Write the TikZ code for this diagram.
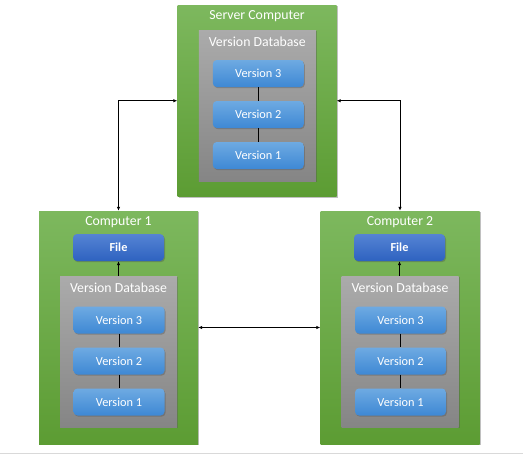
\documentclass[tikz,border=0pt]{standalone}
\usepackage{fontspec}
\setmainfont{Carlito}
\usetikzlibrary{arrows.meta,shadows}
\definecolor{grnTop}{HTML}{7DB85E}
\definecolor{grnBot}{HTML}{5C9C33}
\definecolor{gryTop}{HTML}{ABABAB}
\definecolor{gryBot}{HTML}{858585}
\definecolor{verTop}{HTML}{6EAAE2}
\definecolor{verBot}{HTML}{3E88D4}
\definecolor{fileTop}{HTML}{5584D4}
\definecolor{fileBot}{HTML}{2E62C0}
\tikzset{
  x=1pt, y=-1pt,
  boxshadow/.style={drop shadow={shadow xshift=1pt,shadow yshift=-1.2pt,opacity=0.35,fill=black!70}},
  machine/.style={rectangle, inner sep=0pt, minimum width=159pt, minimum height=#1,
    top color=grnTop, bottom color=grnBot, boxshadow},
  database/.style={rectangle, inner sep=0pt, minimum width=117pt, minimum height=151pt,
    top color=gryTop, bottom color=gryBot, boxshadow},
  version/.style={rectangle, rounded corners=4pt, inner sep=0pt, minimum width=91pt, minimum height=27pt,
    top color=verTop, bottom color=verBot, boxshadow, text=white, font=\fontsize{12.3}{14}\selectfont},
  filebox/.style={rectangle, rounded corners=4pt, inner sep=0pt, minimum width=91pt, minimum height=27pt,
    top color=fileTop, bottom color=fileBot, boxshadow, text=white, font=\fontsize{12.3}{14}\selectfont\bfseries},
  title/.style={text=white, inner sep=0pt, font=\fontsize{13.8}{16}\selectfont},
  link/.style={line width=0.8pt, black},
  twoway/.style={link, {Latex[length=4pt,width=3.5pt]}-{Latex[length=4pt,width=3.5pt]}},
  oneway/.style={link, -{Latex[length=4pt,width=3.5pt]}}
}
\begin{document}
\begin{tikzpicture}
\useasboundingbox (0,0) rectangle (523,455);
\fill[white] (0,0) rectangle (523,455);
\draw[black!15, line width=1.5pt] (0,453.5) -- (523,453.5);

% server computer
\node[machine=191.5pt] (srv) at (257,100.75) {};
\node[title] (srvT) at (257,16.5) {Server Computer};
\node[database] (srvDB) at (257.3,105.5) {};
\node[title] (srvDBT) at (257.3,42) {Version Database};
\node[version] (s3) at (258.3,73.5) {Version 3};
\node[version] (s2) at (258.3,114.5) {Version 2};
\node[version] (s1) at (258.3,155.5) {Version 1};
\draw[link] (s3.south) -- (s2.north);
\draw[link] (s2.south) -- (s1.north);

% computer 1
\node[machine=233pt] (ca) at (118.5,327.5) {};
\node[title] (caT) at (118.5,222.5) {Computer 1};
\node[filebox] (caF) at (118.5,247.5) {File};
\node[database] (caDB) at (118.5,351.5) {};
\node[title] (caDBT) at (118.5,287.5) {Version Database};
\node[version] (a3) at (119,320) {Version 3};
\node[version] (a2) at (119,361) {Version 2};
\node[version] (a1) at (119,402) {Version 1};
\draw[link] (a3.south) -- (a2.north);
\draw[link] (a2.south) -- (a1.north);
\draw[oneway] (caDB.north -| caF.south) -- (caF.south);

% computer 2
\node[machine=233pt] (cb) at (400,327.5) {};
\node[title] (cbT) at (400,222.5) {Computer 2};
\node[filebox] (cbF) at (399.5,247.5) {File};
\node[database] (cbDB) at (400,351.5) {};
\node[title] (cbDBT) at (400,287.5) {Version Database};
\node[version] (b3) at (400.5,320) {Version 3};
\node[version] (b2) at (400.5,361) {Version 2};
\node[version] (b1) at (400.5,402) {Version 1};
\draw[link] (b3.south) -- (b2.north);
\draw[link] (b2.south) -- (b1.north);
\draw[oneway] (cbDB.north -| cbF.south) -- (cbF.south);

% links between machines
\draw[twoway] (ca.north) |- (srv.west);
\draw[twoway] (cb.north) |- (srv.east);
\draw[twoway] (ca.east) -- (cb.west);
\end{tikzpicture}
\end{document}
